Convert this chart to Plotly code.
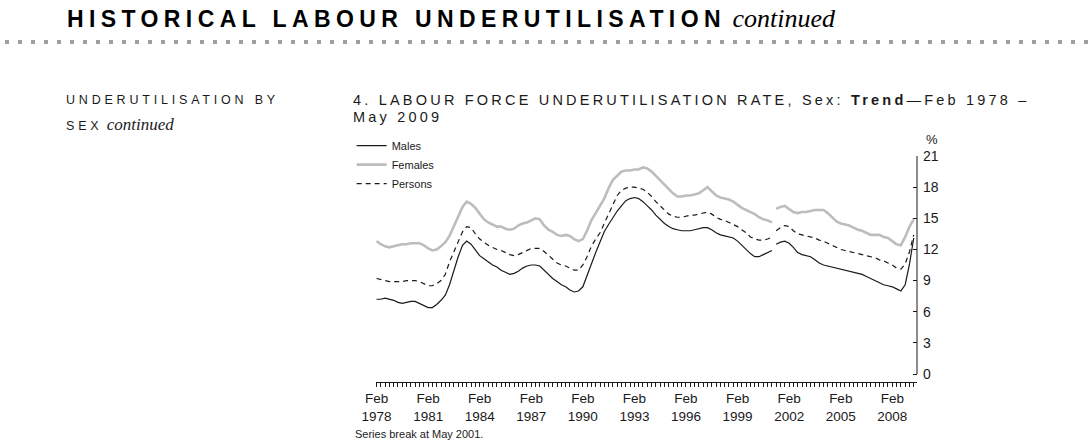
import pandas as pd
import plotly.graph_objects as go

# Quarterly trend values, Feb 1978 .. May 2009 (126 quarters); series break at May 2001
quarters = pd.date_range("1978-02-01", periods=126, freq="3MS")
break_label = "2001-05-01"

males = [7.2, 7.2, 7.3, 7.2, 7.1, 6.9, 6.8, 6.9, 7.0, 7.0, 6.8, 6.6, 6.4, 6.4, 6.7, 7.1,
         7.6, 8.6, 10.0, 11.3, 12.4, 12.8, 12.5, 11.9, 11.4, 11.1, 10.8, 10.5, 10.3, 10.0, 9.8, 9.6,
         9.7, 9.9, 10.2, 10.4, 10.5, 10.5, 10.4, 10.0, 9.6, 9.2, 8.9, 8.6, 8.4, 8.1, 7.9, 8.0,
         8.4, 9.4, 10.6, 11.7, 12.7, 13.7, 14.4, 15.1, 15.7, 16.2, 16.7, 16.9, 17.0, 16.9, 16.6, 16.2,
         15.8, 15.3, 14.9, 14.5, 14.2, 14.0, 13.9, 13.8, 13.8, 13.8, 13.9, 14.0, 14.1, 14.1, 13.9, 13.6,
         13.4, 13.3, 13.2, 13.1, 12.8, 12.4, 12.0, 11.6, 11.3, 11.3, 11.5, 11.7, 11.9,
         12.5, 12.7, 12.8, 12.6, 12.2, 11.7, 11.5, 11.4, 11.3, 11.0, 10.7, 10.5, 10.4, 10.3, 10.2,
         10.1, 10.0, 9.9, 9.8, 9.7, 9.6, 9.4, 9.2, 9.0, 8.8, 8.6, 8.5, 8.4, 8.2, 8.0, 8.6, 10.6, 13.1]

females = [12.8, 12.5, 12.3, 12.2, 12.3, 12.4, 12.5, 12.5, 12.6, 12.6, 12.6, 12.4, 12.1, 11.9, 12.0, 12.3,
           12.7, 13.3, 14.2, 15.2, 16.1, 16.6, 16.4, 16.0, 15.4, 14.9, 14.6, 14.4, 14.2, 14.2, 14.0, 13.9,
           14.0, 14.3, 14.5, 14.6, 14.8, 15.0, 14.9, 14.3, 13.9, 13.7, 13.4, 13.3, 13.4, 13.3, 13.0, 12.8,
           13.0, 13.8, 14.8, 15.5, 16.1, 16.9, 17.9, 18.7, 19.1, 19.5, 19.6, 19.6, 19.7, 19.7, 19.9, 19.8,
           19.5, 19.1, 18.6, 18.2, 17.8, 17.4, 17.1, 17.1, 17.2, 17.2, 17.3, 17.4, 17.7, 18.0, 17.6, 17.2,
           17.0, 16.9, 16.8, 16.6, 16.3, 16.0, 15.8, 15.6, 15.4, 15.1, 14.9, 14.8, 14.6,
           15.9, 16.1, 16.2, 15.9, 15.6, 15.5, 15.6, 15.6, 15.7, 15.8, 15.8, 15.8, 15.5, 15.1, 14.7,
           14.5, 14.4, 14.3, 14.1, 13.9, 13.8, 13.6, 13.4, 13.4, 13.4, 13.2, 13.1, 12.8, 12.5, 12.4, 13.2, 14.2, 14.9]

persons = [9.2, 9.1, 9.0, 8.9, 8.9, 8.9, 8.9, 9.0, 9.0, 9.0, 8.9, 8.7, 8.5, 8.5, 8.7, 9.0,
           9.6, 10.8, 11.8, 12.7, 13.7, 14.2, 14.1, 13.5, 13.0, 12.7, 12.4, 12.2, 12.0, 11.9, 11.7, 11.5,
           11.4, 11.5, 11.7, 11.9, 12.1, 12.1, 12.1, 11.8, 11.4, 11.0, 10.7, 10.5, 10.4, 10.2, 10.0, 10.0,
           10.5, 11.3, 12.3, 13.0, 13.6, 14.5, 15.4, 16.3, 17.2, 17.7, 17.9, 18.0, 18.0, 17.9, 17.8, 17.5,
           17.1, 16.6, 16.2, 15.8, 15.4, 15.2, 15.1, 15.1, 15.2, 15.3, 15.3, 15.4, 15.5, 15.6, 15.4, 15.1,
           14.9, 14.8, 14.6, 14.4, 14.2, 13.9, 13.6, 13.2, 13.0, 12.9, 12.9, 13.0, 13.2,
           13.8, 14.1, 14.3, 14.2, 13.8, 13.5, 13.4, 13.3, 13.2, 13.1, 12.9, 12.8, 12.6, 12.4, 12.2,
           12.0, 11.9, 11.8, 11.7, 11.6, 11.5, 11.4, 11.3, 11.2, 11.0, 10.9, 10.7, 10.5, 10.2, 10.1, 10.6, 11.8, 13.4]

tick_years = [1978, 1981, 1984, 1987, 1990, 1993, 1996, 1999, 2002, 2005, 2008]
y_ticks = [0, 3, 6, 9, 12, 15, 18, 21]

FONT = "Liberation Sans, Arial, sans-serif"

# split at the series break
bi = list(quarters).index(pd.Timestamp(break_label))
segments = [(0, bi), (bi, len(quarters))]

fig = go.Figure()
styles = [
    ("Males", males, dict(color="#1a1a1a", width=1.2)),
    ("Females", females, dict(color="#bdbdbd", width=2.6)),
    ("Persons", persons, dict(color="#1a1a1a", width=1.2, dash="5px,4px")),
]
for name, vals, line in styles:
    for k, (a, b) in enumerate(segments):
        fig.add_trace(go.Scatter(
            x=quarters[a:b], y=vals[a:b], mode="lines", name=name, line=line,
            legendgroup=name, showlegend=(k == 0), hoverinfo="skip"))

W, H = 1088, 441
L, R, T, B = 376, 917, 156, 382

fig.update_layout(
    width=W, height=H,
    margin=dict(l=L, r=W - R, t=T, b=H - B),
    paper_bgcolor="white", plot_bgcolor="white",
    font=dict(family=FONT, size=12, color="#1a1a1a"),
    showlegend=True,
    legend=dict(x=-0.045, y=1.11, xanchor="left", yanchor="top",
                bgcolor="rgba(0,0,0,0)", font=dict(size=11, family=FONT),
                tracegroupgap=0, itemwidth=30),
    xaxis=dict(
        type="date",
        range=["1978-01-20", "2009-07-10"],
        showgrid=False, zeroline=False,
        showline=True, linecolor="#1a1a1a", linewidth=1,
        ticks="outside", ticklen=4, tickcolor="#1a1a1a", tickwidth=1,
        tickvals=[f"{y}-02-01" for y in tick_years],
        ticktext=[f"Feb<br>{y}" for y in tick_years],
        tickfont=dict(size=13.5, family=FONT),
        minor=dict(dtick="M3", tick0="1978-02-01", ticks="outside", ticklen=4,
                   tickcolor="#1a1a1a", tickwidth=1, showgrid=False),
    ),
    yaxis=dict(
        side="right", range=[-0.77, 21],
        showgrid=False, zeroline=False, showline=False,
        ticks="inside", ticklen=4, tickcolor="#1a1a1a", tickwidth=1,
        ticklabelstandoff=5,
        tickvals=y_ticks, tickfont=dict(size=14, family=FONT),
    ),
)

# y axis line spanning 0..21 only
fig.add_shape(type="line", xref="paper", yref="y", x0=1, x1=1, y0=0, y1=21,
              line=dict(color="#1a1a1a", width=1))

# dotted rule under header
fig.add_shape(type="line", xref="paper", yref="paper",
              x0=(5 - L) / (R - L), x1=(1088 - L) / (R - L),
              y0=(B - 42) / (B - T), y1=(B - 42) / (B - T),
              line=dict(color="#a0a0a0", width=4, dash="4px,9px"))

def px(x, y):
    return (x - L) / (R - L), (B - y) / (B - T)

def ann(text, x, y, size, family=FONT, xanchor="left", yanchor="middle", color="#1a1a1a"):
    ax, ay = px(x, y)
    fig.add_annotation(text=text, x=ax, y=ay, xref="paper", yref="paper",
                       xanchor=xanchor, yanchor=yanchor, showarrow=False,
                       font=dict(size=size, family=family, color=color), align="left")

ann('<span style="letter-spacing:5.4px"><b>HISTORICAL LABOUR UNDERUTILISATION</b></span>'
    '<span style="font-family:Liberation Serif;font-style:italic;font-size:26px"> continued</span>',
    65, 18, 23, family="Liberation Sans Narrow, Liberation Sans, Arial", color="#000000")

ann('<span style="letter-spacing:3.8px">UNDERUTILISATION BY</span>', 64, 100, 12.5)
ann('<span style="letter-spacing:3.8px">SEX</span>'
    '<span style="font-family:Liberation Serif;font-style:italic;font-size:17px"> continued</span>',
    64, 125, 12.5)

ann('<span style="letter-spacing:3.2px">4. LABOUR FORCE UNDERUTILISATION RATE, Sex: <b>Trend</b>—Feb 1978 –</span>',
    351, 100, 14.5)
ann('<span style="letter-spacing:3.2px">May 2009</span>', 351, 117, 14.5)

ann("%", 924, 140, 13)
ann("Series break at May 2001.", 353, 434, 11)

fig.write_html("out.html", config={"displayModeBar": False},
               post_script="document.body.style.margin='0';")
